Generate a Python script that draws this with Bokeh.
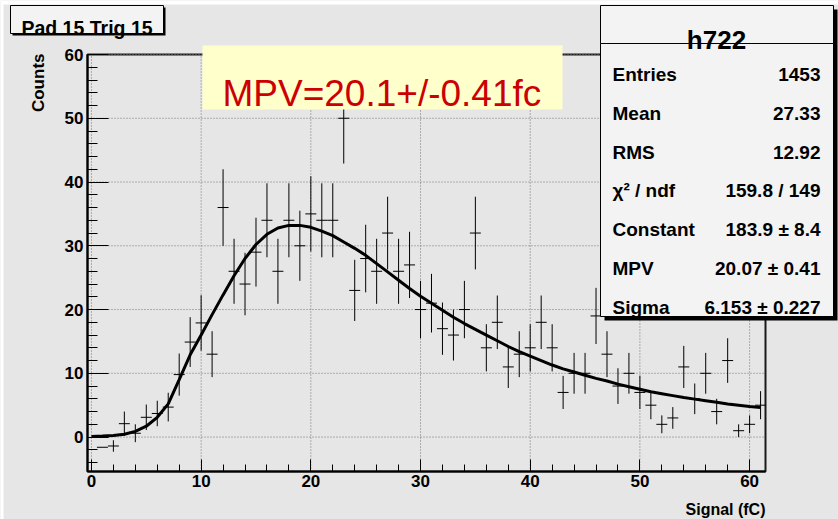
import numpy as np
from bokeh.plotting import figure
from bokeh.models import Range1d, FixedTicker, Label, BoxAnnotation, ColumnDataSource
from bokeh.embed import file_html
from bokeh.resources import INLINE

# ---------------- data ----------------
bin_centers = list(range(1, 62))
counts = [-1.6, -1.4, 2.1, 0.6, 3.1, 3.7, 4.7, 9.8, 14.9, 17.9,
          13.0, 36, 26, 24, 29, 34, 26, 34, 30, 35,
          34, 34, 50, 23, 28, 26, 32, 26, 27, 20,
          21, 17, 16, 20, 32, 14, 18, 11, 13, 14,
          18, 14, 7, 10, 10, 19, 13, 8, 10, 7,
          5, 2, 3, 11, 6, 10, 4, 12, 1, 2, 5]
count_errors = [0.0, 0.9, 1.9, 1.4, 2.0, 2.0, 2.25, 3.3, 3.9, 4.35,
                3.6, 6.0, 5.1, 4.9, 5.4, 5.8, 5.1, 5.8, 5.5, 5.9,
                5.8, 5.8, 7.1, 4.8, 5.3, 5.1, 5.7, 5.1, 5.2, 4.5,
                4.6, 4.1, 4.0, 4.5, 5.7, 3.7, 4.2, 3.3, 3.6, 3.7,
                4.2, 3.7, 2.6, 3.2, 3.2, 4.4, 3.6, 2.8, 3.2, 2.6,
                2.2, 1.4, 1.7, 3.3, 2.4, 3.2, 2.0, 3.5, 1.0, 1.4, 2.2]
fit_x = list(range(0, 62))
fit_y = [0.1, 0.15, 0.25, 0.45, 0.9, 1.7, 3.1, 5.2, 9.0, 12.9,
         16.0, 19.2, 22.3, 25.3, 28.0, 30.2, 31.8, 32.8, 33.2, 33.2,
         32.9, 32.3, 31.6, 30.6, 29.6, 28.5, 27.2, 25.9, 24.6, 23.3,
         22.1, 21.0, 19.9, 18.8, 17.8, 16.9, 16.0, 15.1, 14.2, 13.4,
         12.7, 12.0, 11.3, 10.7, 10.2, 9.7, 9.2, 8.8, 8.3, 7.9,
         7.5, 7.1, 6.8, 6.5, 6.2, 5.95, 5.7, 5.45, 5.2, 5.0,
         4.8, 4.65]
x_lim = (-0.36, 61.45)
y_lim = (-5.4, 60.0)
x_ticks = [0, 10, 20, 30, 40, 50, 60]
y_ticks = [0, 10, 20, 30, 40, 50, 60]
x_minor_ticks = list(range(0, 62, 2))
y_minor_ticks = list(range(-4, 61, 2))
hist_name = "h722"
stat_names = ["Entries", "Mean", "RMS", "\u03c7\u00b2 / ndf", "Constant", "MPV", "Sigma"]
stat_values = ["1453", "27.33", "12.92", "159.8 / 149",
               "183.9 \u00b1 8.4", "20.07 \u00b1 0.41", "6.153 \u00b1 0.227"]
pad_title = "Pad 15 Trig 15"
mpv_text = "MPV=20.1+/-0.41fc"
x_title = "Signal (fC)"
y_title = "Counts"

# ---------------- layout / styling ----------------
FONT = "Liberation Sans"
PAD = "#e6e6e6"
W, H = 838, 519
FL, FR, FT, FB = 87, 765, 54, 471   # data-frame edges in canvas pixels

# extend the ranges so that the data frame lands on FL..FR / FT..FB while the
# Bokeh frame covers the whole canvas (so boxes outside the data frame are drawn)
sx = (FR - FL) / (x_lim[1] - x_lim[0])
sy = (FB - FT) / (y_lim[1] - y_lim[0])
x_range = Range1d(x_lim[0] - FL / sx, x_lim[1] + (W - FR) / sx)
y_range = Range1d(y_lim[0] - (H - FB) / sy, y_lim[1] + FT / sy)

p = figure(width=W, height=H, output_backend="svg", toolbar_location=None,
           x_range=x_range, y_range=y_range,
           min_border_left=0, min_border_right=0,
           min_border_top=0, min_border_bottom=0)
p.title.visible = False
p.background_fill_color = PAD
p.border_fill_color = PAD
p.outline_line_color = None
p.xgrid.visible = False
p.ygrid.visible = False

for ax, ticks, minor, tin, mtin, loc, bnds in (
        (p.xaxis[0], x_ticks, x_minor_ticks, 12, 7, y_lim[0], x_lim),
        (p.yaxis[0], y_ticks, y_minor_ticks, 21, 10, x_lim[0], y_lim)):
    ax.fixed_location = loc
    ax.bounds = bnds
    ax.ticker = FixedTicker(ticks=ticks, minor_ticks=minor)
    ax.major_tick_in = tin
    ax.major_tick_out = 0
    ax.minor_tick_in = mtin
    ax.minor_tick_out = 0
    ax.axis_line_width = 2
    ax.axis_line_color = "black"
    ax.major_tick_line_color = "black"
    ax.minor_tick_line_color = "black"
    ax.major_label_text_font = FONT
    ax.major_label_text_font_style = "bold"
    ax.major_label_text_font_size = "17px"
    ax.major_label_text_color = "black"
p.xaxis.major_label_standoff = 3
p.yaxis.major_label_standoff = 4

# dotted grid inside the data frame
p.segment(x0=x_ticks, y0=[y_lim[0]] * len(x_ticks), x1=x_ticks, y1=[y_lim[1]] * len(x_ticks),
          line_color="#707070", line_dash="1 2", line_width=1)
p.segment(x0=[x_lim[0]] * len(y_ticks), y0=y_ticks, x1=[x_lim[1]] * len(y_ticks), y1=y_ticks,
          line_color="#707070", line_dash="1 2", line_width=1)

# frame outline of the data area
p.add_layout(BoxAnnotation(left=x_lim[0], right=x_lim[1], bottom=y_lim[0], top=y_lim[1],
                           fill_alpha=0.0, line_color="#1a1a1a", line_alpha=1.0,
                           line_width=2, level="underlay"))

xc = np.array(bin_centers, dtype=float)
yc = np.array(counts, dtype=float)
ye = np.array(count_errors, dtype=float)
src = ColumnDataSource(dict(x=xc, lo=yc - ye, hi=yc + ye,
                            left=xc - 0.5, right=xc + 0.5, y=yc))
p.segment("x", "lo", "x", "hi", source=src, line_color="black", line_width=1)
p.segment("left", "y", "right", "y", source=src, line_color="black", line_width=1)
p.line(fit_x, fit_y, line_color="black", line_width=3)


def cbox(left, right, top, bottom, fill, line=None, lw=1):
    b = BoxAnnotation(left=left, right=right, top=top, bottom=bottom,
                      left_units="canvas", right_units="canvas",
                      top_units="canvas", bottom_units="canvas",
                      fill_color=fill, fill_alpha=1.0,
                      line_color=line if line else fill,
                      line_alpha=1.0 if line else 0.0, line_width=lw)
    p.add_layout(b)
    return b


def clabel(x, y, text, size, align="left", bold=True, color="black", angle=0.0,
           font=FONT, baseline="alphabetic"):
    lab = Label(x=x, y=y, x_units="canvas", y_units="canvas", text=text,
                text_font=font, text_font_style="bold" if bold else "normal",
                text_font_size=size, text_align=align, text_baseline=baseline,
                text_color=color, angle=angle)
    p.add_layout(lab)
    return lab


# outer white margin of the canvas
cbox(0, W, 0, 4, "white")
cbox(0, 3, 0, H, "white")

# MPV annotation
cbox(202, 562, 45, 109, "#ffffcc")
clabel(222, 93, mpv_text, "37px", bold=False, color="#cc0000")

# stats box
cbox(604, 837, 9, 320, "black")
cbox(600, 833, 5, 43, "#f3f3f3", "black", 1)
cbox(600, 833, 43, 316, "#f3f3f3", "black", 1)
clabel(716, 39, hist_name, "26px", align="center")
for i, (nm, val) in enumerate(zip(stat_names, stat_values)):
    yb = 74 + i * 38.8
    clabel(612, yb, nm, "19px")
    clabel(820, yb, val, "19px", align="right")

# pad title box
cbox(12, 165, 7, 35, "black")
cbox(10, 163, 5, 33, "#f3f3f3", "black", 1)
clabel(86.5, 27, pad_title, "19.5px", align="center")

# axis titles
clabel(38, 53, y_title, "17px", align="right", angle=np.pi / 2)
clabel(765, 509, x_title, "16px", align="right")

open("out.html", "w").write(file_html(p, INLINE))
